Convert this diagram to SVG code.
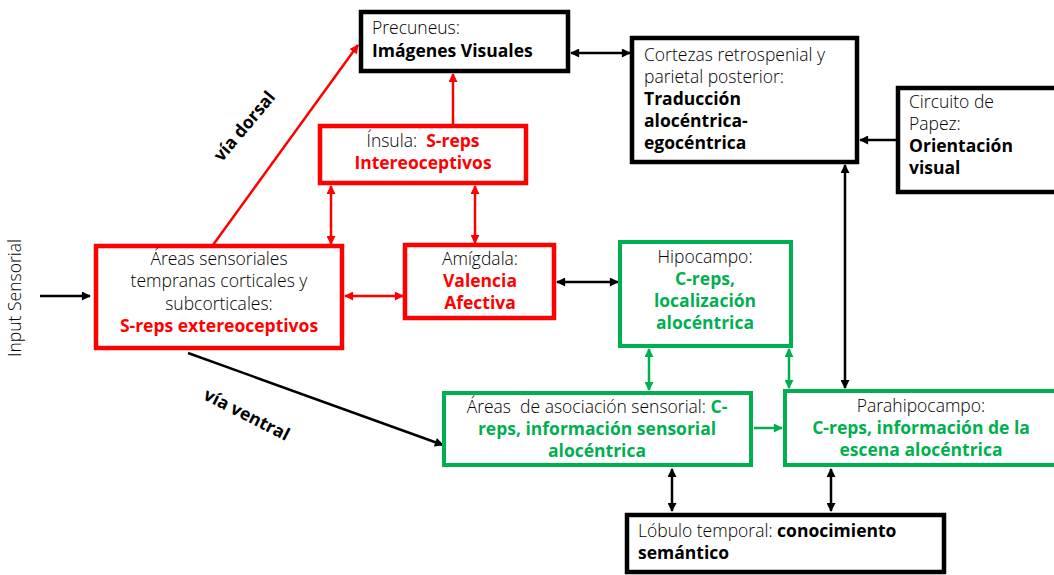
<svg xmlns="http://www.w3.org/2000/svg" width="1054" height="575" viewBox="0 0 1054 575">
  <style>
    text { font-family: "Open Sans", Lato, "Liberation Sans", sans-serif; font-size: 17.5px; font-weight: 350; fill: #000; }
    .b { font-weight: bold; }
    .red { fill: #ff0000; }
    .grn { fill: #00b050; }
    .blk { fill: #000; }
    .mid { text-anchor: middle; }
    .boxK { fill: #fff; stroke: #000; stroke-width: 4.5; }
    .boxR { fill: #fff; stroke: #ff0000; stroke-width: 4.5; }
    .boxG { fill: #fff; stroke: #00b050; stroke-width: 4; }
    .lk { stroke: #000; stroke-width: 2.5; fill: none; }
    .lr { stroke: #ff0000; stroke-width: 2.5; fill: none; }
    .lg { stroke: #00b050; stroke-width: 2.5; fill: none; }
  </style>
  <defs>
    <marker id="ak" viewBox="0 0 10 10" refX="9" refY="5" markerWidth="10" markerHeight="9" markerUnits="userSpaceOnUse" orient="auto-start-reverse">
      <path d="M0,0 L10,5 L0,10 z" fill="#000"/>
    </marker>
    <marker id="ar" viewBox="0 0 10 10" refX="9" refY="5" markerWidth="10" markerHeight="9" markerUnits="userSpaceOnUse" orient="auto-start-reverse">
      <path d="M0,0 L10,5 L0,10 z" fill="#ff0000"/>
    </marker>
    <marker id="ag" viewBox="0 0 10 10" refX="9" refY="5" markerWidth="10" markerHeight="9" markerUnits="userSpaceOnUse" orient="auto-start-reverse">
      <path d="M0,0 L10,5 L0,10 z" fill="#00b050"/>
    </marker>
  </defs>

  <rect width="1054" height="575" fill="#fff"/>

  <!-- connectors -->
  <g id="connectors">
    <line class="lk" x1="40" y1="296" x2="90" y2="296" marker-end="url(#ak)"/>
    <line class="lr" x1="213" y1="245" x2="358" y2="45" marker-end="url(#ar)"/>
    <line class="lr" x1="453" y1="124" x2="453" y2="74" marker-end="url(#ar)"/>
    <line class="lr" x1="331" y1="186" x2="331" y2="244" marker-start="url(#ar)" marker-end="url(#ar)"/>
    <line class="lr" x1="475" y1="186" x2="475" y2="243" marker-start="url(#ar)" marker-end="url(#ar)"/>
    <line class="lr" x1="345" y1="296" x2="403" y2="296" marker-start="url(#ar)" marker-end="url(#ar)"/>
    <line class="lk" x1="557" y1="282" x2="618" y2="282" marker-start="url(#ak)" marker-end="url(#ak)"/>
    <line class="lk" x1="571" y1="53" x2="630" y2="53" marker-start="url(#ak)" marker-end="url(#ak)"/>
    <line class="lk" x1="896" y1="140" x2="860" y2="140" marker-end="url(#ak)"/>
    <line class="lk" x1="845" y1="165" x2="845" y2="388" marker-start="url(#ak)" marker-end="url(#ak)"/>
    <line class="lg" x1="649" y1="349" x2="649" y2="390" marker-start="url(#ag)" marker-end="url(#ag)"/>
    <line class="lg" x1="789" y1="349" x2="789" y2="388" marker-start="url(#ag)" marker-end="url(#ag)"/>
    <line class="lg" x1="754" y1="428" x2="782" y2="428" marker-end="url(#ag)"/>
    <line class="lk" x1="188" y1="353" x2="443" y2="445" marker-end="url(#ak)"/>
    <line class="lk" x1="672" y1="469" x2="672" y2="511" marker-start="url(#ak)" marker-end="url(#ak)"/>
    <line class="lk" x1="831" y1="469" x2="831" y2="511" marker-start="url(#ak)" marker-end="url(#ak)"/>
  </g>

  <!-- pathway labels -->
  <g id="labels">
    <text x="21" y="298" class="mid" font-size="19" transform="rotate(-90 21 298)" fill="#222">Input Sensorial</text>
    <text x="249" y="130" class="b blk mid" font-size="17" transform="rotate(-50 249 130)">vía dorsal</text>
    <text x="244" y="420" class="b blk mid" font-size="17" transform="rotate(27 244 420)">vía ventral</text>
  </g>

  <g id="precuneus">
    <rect class="boxK" x="361" y="12" width="207" height="59"/>
    <text x="372" y="34">Precuneus:</text>
    <text x="372" y="57" class="b blk">Imágenes Visuales</text>
  </g>

  <g id="cortezas">
    <rect class="boxK" x="632" y="38" width="225" height="124"/>
    <text x="644" y="61">Cortezas retrospenial y</text>
    <text x="644" y="83">parietal posterior:</text>
    <text x="644" y="105" class="b blk">Traducción</text>
    <text x="644" y="127" class="b blk">alocéntrica-</text>
    <text x="644" y="149" class="b blk">egocéntrica</text>
  </g>

  <g id="papez">
    <rect class="boxK" x="898" y="88" width="170" height="104"/>
    <text x="909" y="108">Circuito de</text>
    <text x="909" y="130">Papez:</text>
    <text x="909" y="152" class="b blk">Orientación</text>
    <text x="909" y="174" class="b blk">visual</text>
  </g>

  <g id="insula">
    <rect class="boxR" x="320" y="126" width="206" height="57"/>
    <text x="423" y="147" class="mid">Ínsula:&#160; <tspan class="b red">S-reps</tspan></text>
    <text x="423" y="169" class="mid b red">Intereoceptivos</text>
  </g>

  <g id="areas-sensoriales">
    <rect class="boxR" x="96" y="246" width="246" height="102"/>
    <text x="219" y="265" class="mid">Áreas sensoriales</text>
    <text x="219" y="287" class="mid">tempranas corticales y</text>
    <text x="219" y="310" class="mid">subcorticales:</text>
    <text x="219" y="332" class="mid b red">S-reps extereoceptivos</text>
  </g>

  <g id="amigdala">
    <rect class="boxR" x="405" y="245" width="149" height="73"/>
    <text x="480" y="265" class="mid">Amígdala:</text>
    <text x="480" y="287" class="mid b red">Valencia</text>
    <text x="480" y="309" class="mid b red">Afectiva</text>
  </g>

  <g id="hipocampo">
    <rect class="boxG" x="620" y="242" width="171" height="104"/>
    <text x="705" y="263" class="mid">Hipocampo:</text>
    <text x="705" y="285" class="mid b grn">C-reps,</text>
    <text x="705" y="307" class="mid b grn">localización</text>
    <text x="705" y="329" class="mid b grn">alocéntrica</text>
  </g>

  <g id="areas-asociacion">
    <rect class="boxG" x="444" y="393" width="307" height="72"/>
    <text x="597" y="413" class="mid">Áreas&#160; de asociación sensorial: <tspan class="b grn">C-</tspan></text>
    <text x="597" y="435" class="mid b grn">reps, información sensorial</text>
    <text x="597" y="457" class="mid b grn">alocéntrica</text>
  </g>

  <g id="parahipocampo">
    <rect class="boxG" x="785" y="391" width="280" height="74"/>
    <text x="921" y="412" class="mid">Parahipocampo:</text>
    <text x="921" y="434" class="mid b grn">C-reps, información de la</text>
    <text x="921" y="456" class="mid b grn">escena alocéntrica</text>
  </g>

  <g id="lobulo-temporal">
    <rect class="boxK" x="627" y="515" width="317" height="57"/>
    <text x="638" y="537">Lóbulo temporal: <tspan class="b blk">conocimiento</tspan></text>
    <text x="638" y="559" class="b blk">semántico</text>
  </g>
</svg>
